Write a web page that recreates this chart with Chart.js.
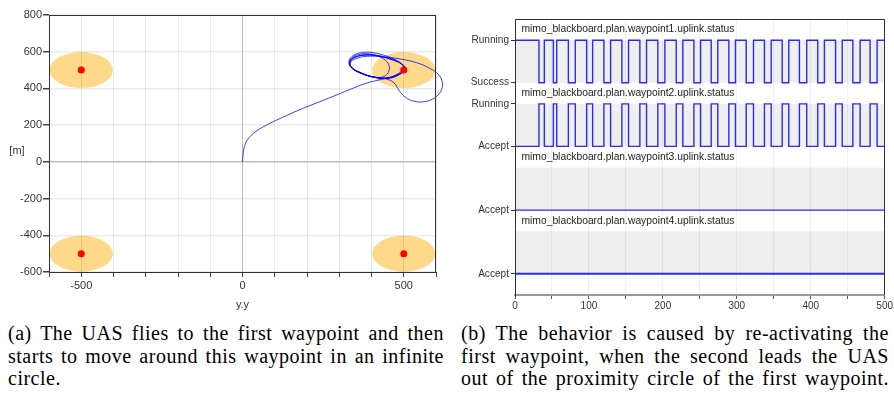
<!DOCTYPE html>
<html><head><meta charset="utf-8">
<script src="https://cdn.jsdelivr.net/npm/chart.js@4/dist/chart.umd.min.js"></script>
<style>
html,body{margin:0;padding:0;background:#fff;}
#wrap{position:relative;width:894px;height:405px;overflow:hidden;background:#fff;}
#c1{position:absolute;left:0;top:0;}
#c2{position:absolute;left:455px;top:0;}
.cap{position:absolute;top:322px;font-family:'Liberation Serif','Times New Roman',serif;font-size:20px;line-height:22.7px;color:#000;letter-spacing:0.5px;}
.cap div{white-space:nowrap;text-align:justify;text-align-last:justify;}
.cap div.last{text-align:left;text-align-last:left;}
</style></head>
<body><div id="wrap">
<canvas id="c1" width="450" height="310" style="width:450px;height:310px"></canvas>
<canvas id="c2" width="439" height="315" style="width:439px;height:315px"></canvas>
<div class="cap" style="left:8px;width:436px">
<div>(a) The UAS flies to the first waypoint and then</div>
<div>starts to move around this waypoint in an infinite</div>
<div class="last">circle.</div>
</div>
<div class="cap" style="left:461px;width:428px">
<div>(b) The behavior is caused by re-activating the</div>
<div>first waypoint, when the second leads the UAS</div>
<div>out of the proximity circle of the first waypoint.</div>
</div>
</div>
<script>
// ---------- data: left chart (trajectory) ----------
const waypointX = [-500, 500, -500, 500];
const waypointY = [500, 500, -500, -500];
const proximityRadius = 98;
const pathX = [0,2,8,22,45,80,125,176,230,280,330,383,420,460,490,
 505,495,465,425,385,350,332,336,360,400,445,480,500,
 503,488,455,415,375,345,333,340,368,410,455,488,502,
 498,475,440,395,360,338,330,338,362,405,445,
 470,485,505,532,565,595,615,620,608,580,540,490,435,385,352,334,340,366,408,
 438,454,452,430,395,360,338,332,340,368,410,452,485,500,
 500,480,445,400,360,337,333,345,375,420,462,492,502];
const pathY = [0,45,95,135,170,205,243,283,321,356,392,428,445,462,488,
 510,532,555,575,582,570,545,515,490,465,458,475,495,
 515,540,562,580,582,565,538,510,482,460,456,478,500,
 525,555,580,597,592,572,545,515,488,462,452,
 430,390,352,330,328,348,385,430,475,510,540,560,572,575,562,540,512,485,462,
 465,495,535,568,588,585,565,540,512,485,460,455,475,498,
 520,548,570,582,578,558,530,503,478,458,460,482,503];
const xTickLabelsShown = [-500, 0, 500];
const leftXTitle = 'y.y';
const leftYTitle = '[m]';

// ---------- data: right chart (status signals) ----------
const wp1Times = [0,32.4,39.7,51.9,56.4,72.2,81.6,96.9,105,120.3,129.3,144.6,153.6,168.9,177.9,193.2,202.7,218.1,227,242,251,265.4,274.3,289.2,298.2,312.7,322.6,337.4,346.5,361.4,370.3,384.7,394.6,409.5,418.5,433.6,442.6,457,466.8,480.3,489.8,500];
const wp1Status = ['Running','Success','Running','Success','Running','Success','Running','Success','Running','Success','Running','Success','Running','Success','Running','Success','Running','Success','Running','Success','Running','Success','Running','Success','Running','Success','Running','Success','Running','Success','Running','Success','Running','Success','Running','Success','Running','Success','Running','Success','Running','Running'];
const wp2Times = wp1Times;
const wp2Status = ['Accept','Running','Accept','Running','Accept','Running','Accept','Running','Accept','Running','Accept','Running','Accept','Running','Accept','Running','Accept','Running','Accept','Running','Accept','Running','Accept','Running','Accept','Running','Accept','Running','Accept','Running','Accept','Running','Accept','Running','Accept','Running','Accept','Running','Accept','Running','Accept','Accept'];
const wp3Times = [0,500];
const wp3Status = ['Accept','Accept'];
const wp4Times = [0,500];
const wp4Status = ['Accept','Accept'];
const panelTitles = ['mimo_blackboard.plan.waypoint1.uplink.status','mimo_blackboard.plan.waypoint2.uplink.status','mimo_blackboard.plan.waypoint3.uplink.status','mimo_blackboard.plan.waypoint4.uplink.status'];
const panelTickLabels = [['Success','Running'],['Accept','Running'],['Accept'],['Accept']];

// ---------- left chart ----------
Chart.defaults.font.family = "'Liberation Sans', Arial, sans-serif";
Chart.defaults.color = '#333';
Chart.defaults.animation = false;

const leftPlugin = {
  id: 'leftDecor',
  beforeDraw(chart) {
    const {ctx, chartArea: a, scales: {x, y}} = chart;
    ctx.save();
    ctx.beginPath(); ctx.rect(a.left, a.top, a.right - a.left, a.bottom - a.top); ctx.clip();
    ctx.fillStyle = '#ffd98a';
    waypointX.forEach((wx, i) => {
      const cx = x.getPixelForValue(wx), cy = y.getPixelForValue(waypointY[i]);
      const rx = Math.abs(x.getPixelForValue(wx + proximityRadius) - cx);
      const ry = Math.abs(y.getPixelForValue(waypointY[i] + proximityRadius) - cy);
      ctx.beginPath(); ctx.ellipse(cx, cy, rx, ry, 0, 0, Math.PI * 2); ctx.fill();
    });
    ctx.restore();
  },
  afterDraw(chart) {
    const {ctx, chartArea: a} = chart;
    ctx.save();
    ctx.strokeStyle = '#333'; ctx.lineWidth = 1;
    ctx.strokeRect(Math.round(a.left) + 0.5, Math.round(a.top) + 0.5, Math.round(a.right - a.left) - 1, Math.round(a.bottom - a.top));
    ctx.fillStyle = '#333';
    ctx.font = "11px 'Liberation Sans', Arial, sans-serif";
    ctx.textAlign = 'center'; ctx.textBaseline = 'middle';
    ctx.fillText(leftXTitle, (a.left + a.right) / 2, 305);
    ctx.fillText(leftYTitle, 17, (a.top + a.bottom) / 2 + 7);
    ctx.restore();
  }
};

new Chart(document.getElementById('c1'), {
  type: 'scatter',
  data: {
    datasets: [
      {
        data: pathX.map((v, i) => ({x: v, y: pathY[i]})),
        showLine: true, pointRadius: 0, borderColor: 'rgba(0,0,255,0.85)', borderWidth: 0.9,
        tension: 0.4, order: 2, clip: {left: 0, top: 0, right: 10, bottom: 0}
      },
      {
        data: waypointX.map((v, i) => ({x: v, y: waypointY[i]})),
        pointRadius: 3.5, pointBackgroundColor: '#ff0000', pointBorderWidth: 0, showLine: false, order: 1
      }
    ]
  },
  options: {
    responsive: false, animation: false,
    layout: {padding: {top: 15, right: 14, left: 0, bottom: 0}},
    plugins: {legend: {display: false}, tooltip: {enabled: false}},
    scales: {
      x: {
        type: 'linear', min: -600, max: 600,
        afterFit: s => { s.height = 38; },
        ticks: {stepSize: 100, autoSkip: false, maxRotation: 0, padding: 2, font: {size: 11}, color: '#333',
          callback: v => xTickLabelsShown.includes(v) ? String(v) : ''},
        grid: {color: c => c.tick && c.tick.value === 0 ? '#bdbdbd' : 'rgba(0,0,0,0.09)', tickColor: '#444', tickLength: 5},
        border: {color: '#333'}
      },
      y: {
        type: 'linear', min: -600, max: 800,
        afterFit: s => { s.width = 49; },
        ticks: {stepSize: 200, padding: 1, font: {size: 11}, color: '#333'},
        grid: {color: c => c.tick && c.tick.value === 0 ? '#bdbdbd' : 'rgba(0,0,0,0.08)', lineWidth: 1.5, tickColor: '#444', tickLength: 6},
        border: {color: '#333'}
      }
    }
  },
  plugins: [leftPlugin]
});

// ---------- right chart ----------
const panelBases = [4.5, 3, 1.5, 0];
const statusLevel = {Running: 1, Success: 0, Accept: 0};
const yTickValues = [], yTickText = [];
panelTickLabels.forEach((labels, p) => {
  labels.forEach(l => { yTickValues.push(panelBases[p] + statusLevel[l]); yTickText.push(l); });
});
const signals = [[wp1Times, wp1Status], [wp2Times, wp2Status], [wp3Times, wp3Status], [wp4Times, wp4Status]];

const rightPlugin = {
  id: 'rightDecor',
  beforeDraw(chart) {
    const {ctx, chartArea: a, scales: {y}} = chart;
    ctx.save();
    ctx.fillStyle = '#efefef';
    panelBases.forEach(b => {
      const top = y.getPixelForValue(b + 1), bot = y.getPixelForValue(b);
      ctx.fillRect(a.left, top, a.right - a.left, bot - top);
    });
    ctx.restore();
  },
  afterDraw(chart) {
    const {ctx, chartArea: a, scales: {y}} = chart;
    ctx.save();
    ctx.fillStyle = '#222';
    ctx.font = "10.3px 'Liberation Sans', Arial, sans-serif";
    ctx.textAlign = 'left'; ctx.textBaseline = 'middle';
    panelBases.forEach((b, i) => {
      ctx.fillText(panelTitles[i], a.left + 6.5, y.getPixelForValue(b + 1.25));
    });
    ctx.strokeStyle = '#333'; ctx.lineWidth = 1;
    ctx.beginPath();
    ctx.moveTo(Math.round(a.left) + 0.5, a.bottom);
    ctx.lineTo(Math.round(a.left) + 0.5, Math.round(a.top) + 0.5);
    ctx.lineTo(Math.round(a.right) - 0.5, Math.round(a.top) + 0.5);
    ctx.lineTo(Math.round(a.right) - 0.5, a.bottom);
    ctx.stroke();
    ctx.restore();
  }
};

new Chart(document.getElementById('c2'), {
  type: 'line',
  data: {
    datasets: signals.map(([times, status], p) => ({
      data: times.map((t, i) => ({x: t, y: panelBases[p] + statusLevel[status[i]]})),
      stepped: true, pointRadius: 0, borderColor: '#2a2aff', borderWidth: p === 3 ? 2 : 1.4, fill: false
    }))
  },
  options: {
    responsive: false, animation: false,
    layout: {padding: {top: 19, right: 9, left: 0, bottom: 0}},
    plugins: {legend: {display: false}, tooltip: {enabled: false}},
    scales: {
      x: {
        type: 'linear', min: 0, max: 500,
        afterFit: s => { s.height = 20; },
        ticks: {stepSize: 50, autoSkip: false, maxRotation: 0, padding: 1, font: {size: 10}, color: '#333',
          callback: v => v % 100 === 0 ? String(v) : ''},
        grid: {color: 'rgba(0,0,0,0.06)', tickColor: '#555', tickLength: 4},
        border: {color: '#999', width: 2}
      },
      y: {
        type: 'linear', min: -0.5, max: 6,
        afterFit: s => { s.width = 60; },
        afterBuildTicks: s => { s.ticks = yTickValues.map(v => ({value: v})); },
        ticks: {padding: 2, font: {size: 10.1}, color: '#333', autoSkip: false,
          callback: v => { const i = yTickValues.indexOf(v); return i >= 0 ? yTickText[i] : ''; }},
        grid: {drawOnChartArea: false, tickColor: '#333', tickLength: 4},
        border: {color: '#333'}
      }
    }
  },
  plugins: [rightPlugin]
});
</script>
</body></html>
